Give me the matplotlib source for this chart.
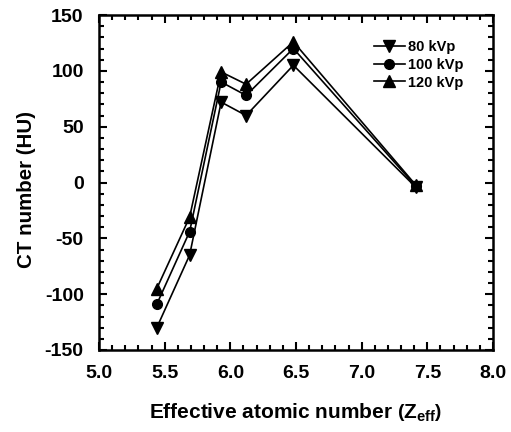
import matplotlib
matplotlib.use('Agg')
from matplotlib import pyplot as plt
from matplotlib.ticker import MultipleLocator, FormatStrFormatter

plt.rcParams['font.family'] = 'Liberation Sans'
plt.rcParams['font.weight'] = 'bold'
plt.rcParams['axes.unicode_minus'] = False
plt.rcParams['mathtext.fontset'] = 'custom'
plt.rcParams['mathtext.bf'] = 'Liberation Sans:bold'
plt.rcParams['mathtext.rm'] = 'Liberation Sans'
plt.rcParams['mathtext.default'] = 'bf'

zeff = [5.44, 5.69, 5.93, 6.12, 6.48, 7.41]
ct_80 = [-130, -65, 72, 60, 105, -4]
ct_100 = [-109, -44, 90, 78, 120, -3]
ct_120 = [-95, -31, 99, 88, 126, -2]

series = [('80 kVp', ct_80, 'v', 8.5), ('100 kVp', ct_100, 'o', 7),
          ('120 kVp', ct_120, '^', 8.5)]

fig = plt.figure(figsize=(5.11, 4.32), dpi=100)
ax = fig.add_axes([99 / 511, 1 - 350 / 432, 394 / 511, 335 / 432])

for label, values, marker, ms in series:
    ax.plot(zeff, values, color='black', linewidth=1.2, marker=marker,
            markersize=ms, label=label)

ax.set_xlim(5.0, 8.0)
ax.set_ylim(-150, 150)
ax.xaxis.set_major_locator(MultipleLocator(0.5))
ax.xaxis.set_minor_locator(MultipleLocator(0.1))
ax.yaxis.set_major_locator(MultipleLocator(50))
ax.yaxis.set_minor_locator(MultipleLocator(10))
ax.xaxis.set_major_formatter(FormatStrFormatter('%.1f'))
ax.tick_params(which='both', direction='in', top=True, right=True,
               labelsize=14, width=1.5)
ax.tick_params(which='major', length=6)
ax.tick_params(which='minor', length=3.5)
ax.tick_params(axis='y', which='major', pad=11)
ax.tick_params(axis='x', which='major', pad=11)
for spine in ax.spines.values():
    spine.set_linewidth(1.8)

ax.set_xlabel(r'Effective atomic number $\left(\mathbf{Z}_{\mathbf{eff}}\right)$',
              fontsize=15, fontweight='bold', labelpad=14)
ax.set_ylabel('CT number (HU)', fontsize=14.8, fontweight='bold')
ax.yaxis.set_label_coords(-0.16, 0.48)

leg = ax.legend(loc='upper right', frameon=False, fontsize=10.5,
                bbox_to_anchor=(0.95, 0.955), handlelength=2.1,
                handletextpad=0.2, labelspacing=0.25, borderaxespad=0.3)

fig.savefig('out.png', dpi=100)
